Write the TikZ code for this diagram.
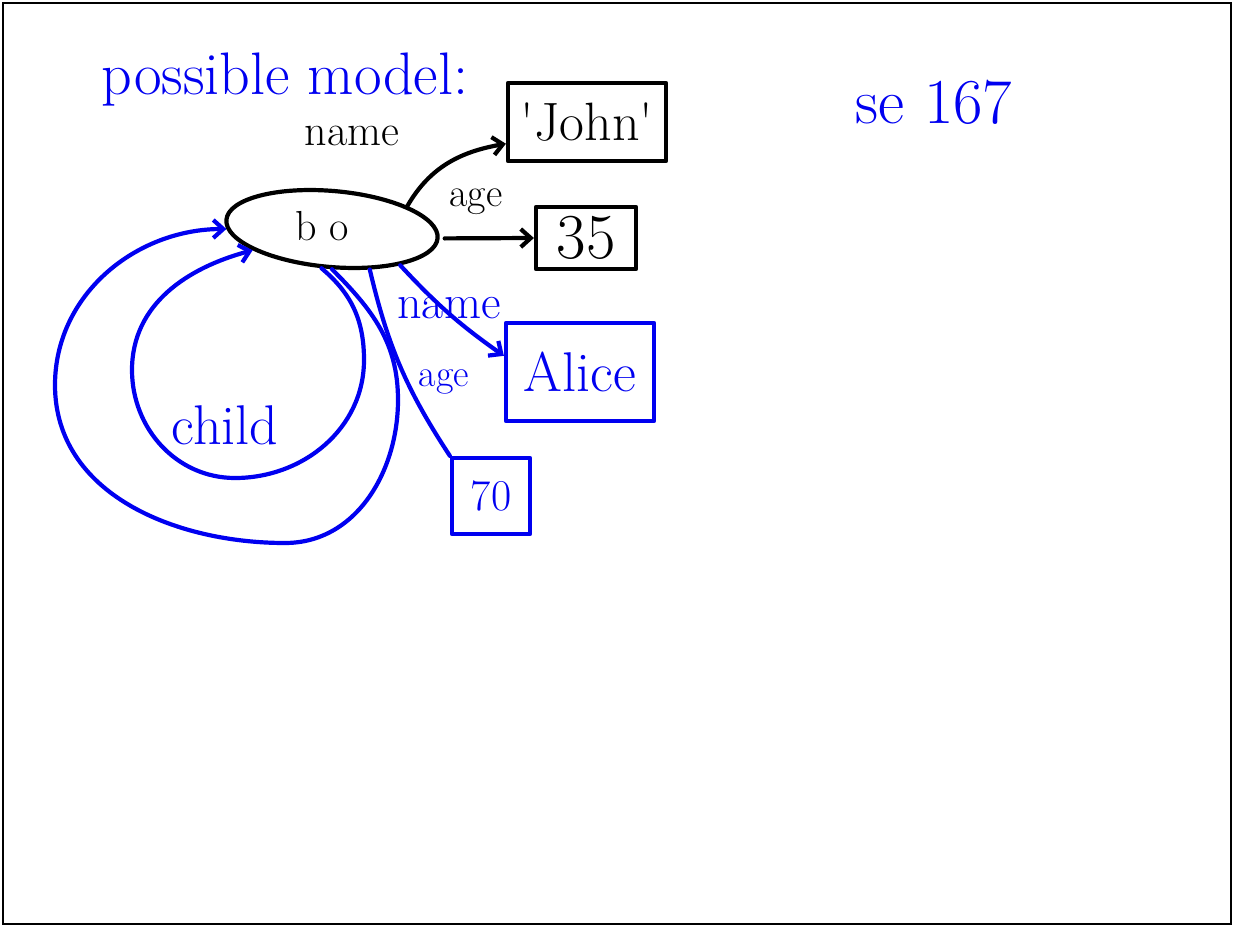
\documentclass[tikz,border=0pt]{standalone}
\usetikzlibrary{shapes.geometric, arrows.meta}
\definecolor{pen}{RGB}{0,0,240}
\newcommand{\hand}[1]{\fontsize{#1}{#1}\selectfont}
\tikzset{
	ink/.style={line width=4.2pt, line cap=round, line join=round},
	valbox/.style={draw, ink, rectangle, inner sep=0pt},
	tip/.style={-{Straight Barb[length=10pt,width=18pt]}},
}

\begin{document}
\begin{tikzpicture}[x=1pt,y=1pt]
	\useasboundingbox (0,0) rectangle (1235,-926);
	\draw[line width=2pt] (3,-3) rectangle (1231,-924);
	% heading
	\node[pen, font=\hand{60}] (title) at (285,-80) {possible model:};
	\node[pen, font=\hand{64}] (page) at (934,-102) {se 167};
	% the object and its values
	\node[ellipse, draw, ink, minimum width=212pt, minimum height=76pt, rotate=-5] (obj) at (332,-229) {};
	\node[font=\hand{42}] (objname) at (322,-226) {b o};
	\node[valbox, minimum width=158pt, minimum height=78pt, font=\hand{54}] (john) at (587,-122) {\textquotesingle John\textquotesingle};
	\node[valbox, minimum width=100pt, minimum height=62pt, font=\hand{64}] (n35) at (586,-238) {35};
	\node[valbox, pen, minimum width=148pt, minimum height=98pt, font=\hand{56}] (alice) at (580,-372) {Alice};
	\node[valbox, pen, minimum width=78pt, minimum height=76pt, font=\hand{44}] (n70) at (491,-496) {70};
	% labels
	\node[font=\hand{44}] (lname) at (352,-136) {name};
	\node[font=\hand{40}] (lage) at (476,-202) {age};
	\node[pen, font=\hand{48}] (lname2) at (449,-308) {name};
	\node[pen, font=\hand{38}] (lage2) at (444,-382) {age};
	\node[pen, font=\hand{56}] (lchild) at (225,-425) {child};
	% connectors
	\draw[ink, tip] (obj.22) to[out=60, in=190] (john.195);
	\draw[ink, tip, shorten <=5pt] (obj.east) -- (n35.west);
	\draw[ink, pen, tip] (obj.-23) to[bend right=6] (alice.168);
	\draw[ink, pen] (obj.-42) to[bend right=10] (n70.north west);
	% child loops
	\draw[ink, pen, tip] (obj.-85) to[out=-45, in=90] (398,-400) to[out=-90, in=0] (285,-543)
		to[out=180, in=-90] (55,-385) to[out=90, in=180] (obj.185);
	\draw[ink, pen, tip] (obj.-100) to[out=-40, in=90] (364,-360) to[out=-90, in=0] (235,-478)
		to[out=180, in=-90] (132,-370) to[out=90, in=195] (obj.200);
\end{tikzpicture}
\end{document}
